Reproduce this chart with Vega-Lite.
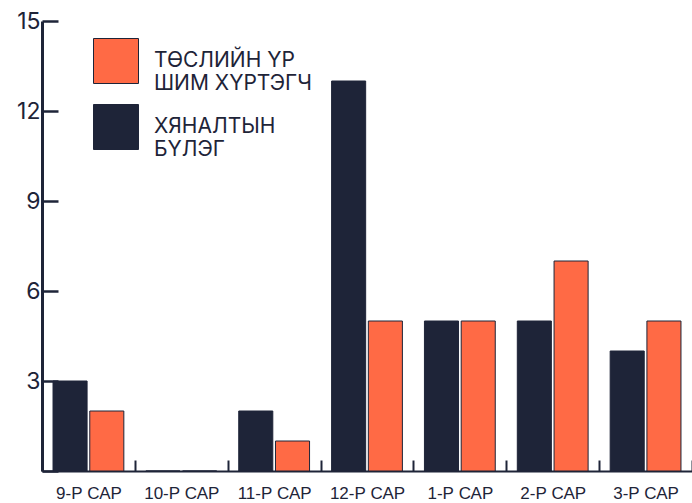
{
  "$schema": "https://vega.github.io/schema/vega-lite/v6.json",
  "width": 650,
  "height": 450,
  "autosize": {"type": "none"},
  "padding": {"left": 42, "top": 21, "right": 0, "bottom": 32},
  "background": "white",
  "config": {"view": {"stroke": null}},
  "data": {
    "values": [
      {"month": "9-Р САР", "group": "ХЯНАЛТЫН БҮЛЭГ", "value": 3},
      {"month": "9-Р САР", "group": "ТӨСЛИЙН ҮР ШИМ ХҮРТЭГЧ", "value": 2},
      {"month": "10-Р САР", "group": "ХЯНАЛТЫН БҮЛЭГ", "value": 0},
      {"month": "10-Р САР", "group": "ТӨСЛИЙН ҮР ШИМ ХҮРТЭГЧ", "value": 0},
      {"month": "11-Р САР", "group": "ХЯНАЛТЫН БҮЛЭГ", "value": 2},
      {"month": "11-Р САР", "group": "ТӨСЛИЙН ҮР ШИМ ХҮРТЭГЧ", "value": 1},
      {"month": "12-Р САР", "group": "ХЯНАЛТЫН БҮЛЭГ", "value": 13},
      {"month": "12-Р САР", "group": "ТӨСЛИЙН ҮР ШИМ ХҮРТЭГЧ", "value": 5},
      {"month": "1-Р САР", "group": "ХЯНАЛТЫН БҮЛЭГ", "value": 5},
      {"month": "1-Р САР", "group": "ТӨСЛИЙН ҮР ШИМ ХҮРТЭГЧ", "value": 5},
      {"month": "2-Р САР", "group": "ХЯНАЛТЫН БҮЛЭГ", "value": 5},
      {"month": "2-Р САР", "group": "ТӨСЛИЙН ҮР ШИМ ХҮРТЭГЧ", "value": 7},
      {"month": "3-Р САР", "group": "ХЯНАЛТЫН БҮЛЭГ", "value": 4},
      {"month": "3-Р САР", "group": "ТӨСЛИЙН ҮР ШИМ ХҮРТЭГЧ", "value": 5}
    ]
  },
  "mark": {"type": "bar", "stroke": "#1E2438", "strokeWidth": 1},
  "encoding": {
    "x": {
      "field": "month",
      "type": "nominal",
      "sort": ["9-Р САР", "10-Р САР", "11-Р САР", "12-Р САР", "1-Р САР", "2-Р САР", "3-Р САР"],
      "scale": {"paddingInner": 0, "paddingOuter": 0},
      "axis": {
        "title": null,
        "labelAngle": 0,
        "tickBand": "extent",
        "tickSize": -11,
        "tickWidth": 2,
        "tickColor": "#1E2438",
        "domainColor": "#1E2438",
        "domainWidth": 2,
        "labelFont": "Liberation Sans",
        "labelFontSize": 17,
        "labelColor": "#1E2438",
        "labelPadding": 25
      }
    },
    "xOffset": {
      "field": "group",
      "type": "nominal",
      "sort": ["ХЯНАЛТЫН БҮЛЭГ", "ТӨСЛИЙН ҮР ШИМ ХҮРТЭГЧ"],
      "scale": {"paddingInner": 0.073, "paddingOuter": 0.3}
    },
    "y": {
      "field": "value",
      "type": "quantitative",
      "scale": {"domain": [0, 15], "nice": false},
      "axis": {
        "title": null,
        "values": [0, 3, 6, 9, 12, 15],
        "grid": false,
        "tickSize": -16,
        "tickWidth": 2.5,
        "tickColor": "#1E2438",
        "domainColor": "#1E2438",
        "domainWidth": 3,
        "labelFont": "Inter",
        "labelFontSize": 23,
        "labelColor": "#1E2438",
        "labelPadding": 18,
        "labelExpr": "datum.value == 0 ? '' : datum.label"
      }
    },
    "color": {
      "field": "group",
      "type": "nominal",
      "scale": {
        "domain": ["ТӨСЛИЙН ҮР ШИМ ХҮРТЭГЧ", "ХЯНАЛТЫН БҮЛЭГ"],
        "range": ["#FF6A45", "#1E2438"]
      },
      "legend": {
        "title": null,
        "orient": "none",
        "legendX": 51,
        "legendY": 17,
        "symbolType": "square",
        "symbolSize": 2025,
        "symbolStrokeColor": "#1E2438",
        "symbolStrokeWidth": 1,
        "labelFont": "Inter",
        "labelFontSize": 21,
        "labelColor": "#1E2438",
        "labelOffset": 15,
        "labelLimit": 300,
        "rowPadding": 8,
        "labelExpr": "datum.label == 'ХЯНАЛТЫН БҮЛЭГ' ? ['ХЯНАЛТЫН', 'БҮЛЭГ'] : ['ТӨСЛИЙН ҮР', 'ШИМ ХҮРТЭГЧ']"
      }
    }
  }
}
